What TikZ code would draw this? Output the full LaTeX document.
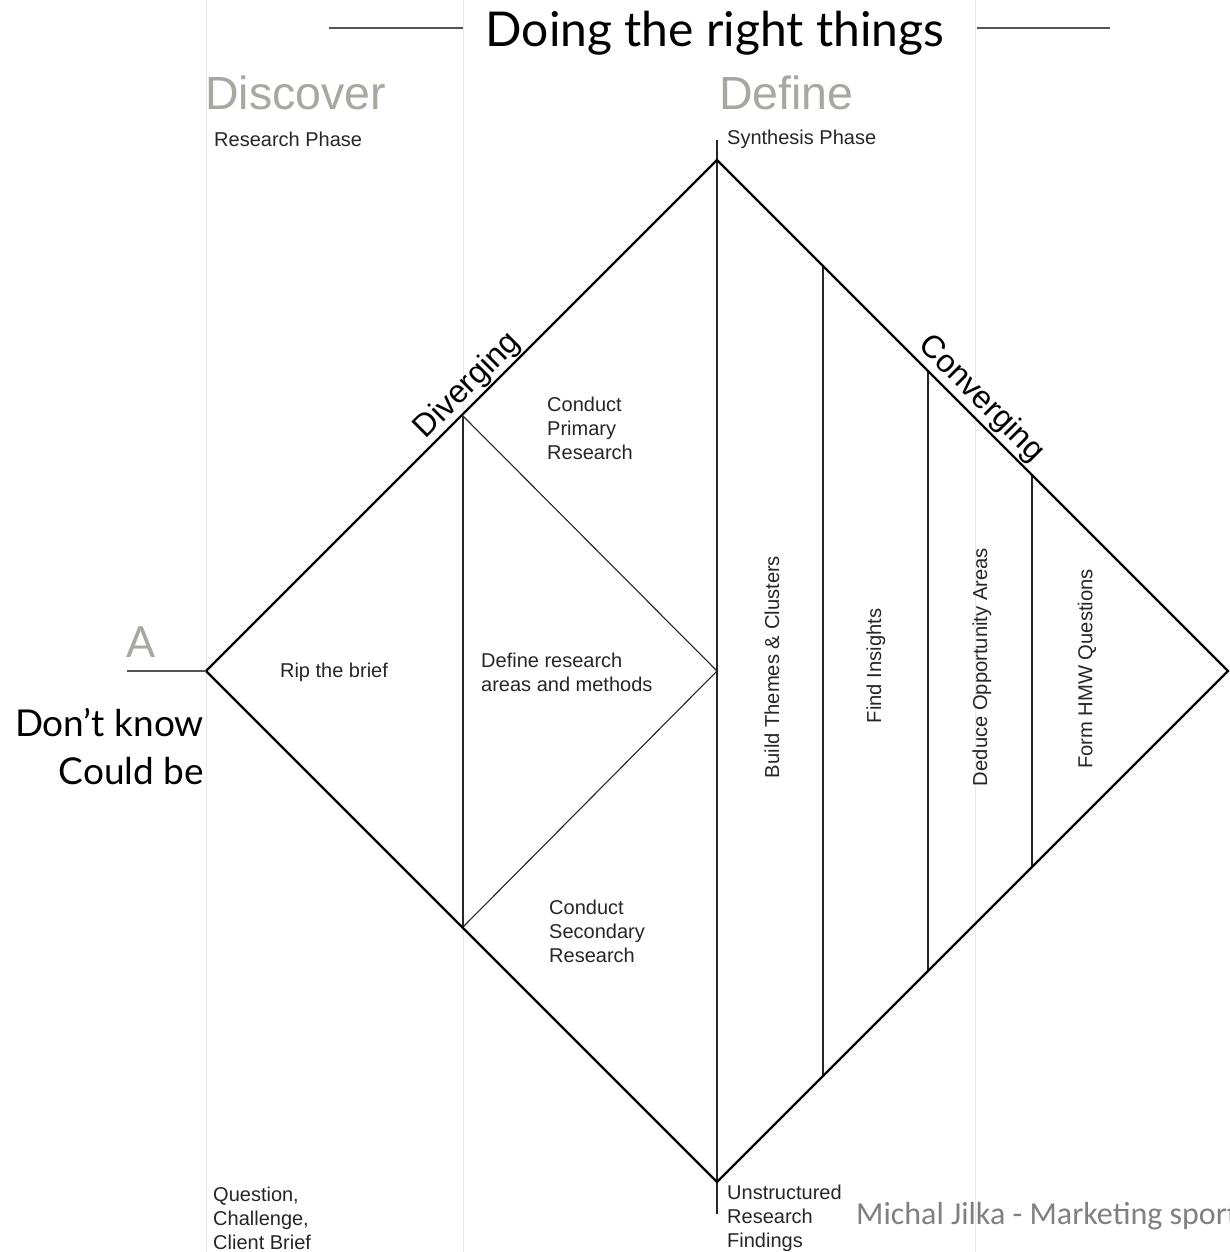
\documentclass[tikz,border=0pt]{standalone}
\usepackage{fontspec}
\setmainfont{Liberation Sans}
\newfontfamily\avfont{Lato}
\newfontfamily\calfont{Carlito}
\usetikzlibrary{calc}
\definecolor{phasegray}{RGB}{168,168,162}
\definecolor{guide}{RGB}{232,232,232}
\definecolor{footgray}{RGB}{128,128,128}
\definecolor{rulegray}{RGB}{85,85,85}
\begin{document}
\begin{tikzpicture}[x=1pt,y=-1pt,
  edge/.style={line width=2.2pt, black},
  innerline/.style={line width=1.4pt, black!85},
  guideline/.style={line width=1pt, guide},
  rule/.style={line width=1.4pt, rulegray},
  small/.style={font=\fontsize{20}{24}\selectfont, inner sep=0pt, align=left, text=black!85},
  phase/.style={font=\fontsize{46.5}{46.5}\selectfont, text=phasegray, inner sep=0pt, anchor=base west},
  vlabel/.style={font=\fontsize{20.2}{24}\selectfont, inner sep=0pt, rotate=90, text=black!85},
  dlabel/.style={font=\fontsize{32}{32}\selectfont, inner sep=1.5pt, anchor=south},
  bigav/.style={font=\avfont\fontsize{37}{48}\selectfont, inner sep=0pt}]
\useasboundingbox (0,0) rectangle (1230,1252);
\fill[white] (0,0) rectangle (1230,1252);

% guide lines
\coordinate (g1t) at (206,0); \coordinate (g1b) at (206,1252);
\coordinate (g2t) at (463,0); \coordinate (g2b) at (463,1252);
\coordinate (g3t) at (975,0); \coordinate (g3b) at (975,1252);
\draw[guideline] (g1t) -- (g1b);
\draw[guideline] (g2t) -- (g2b);
\draw[guideline] (g3t) -- (g3b);

% title
\node[font=\avfont\fontsize{48}{48}\selectfont, inner sep=0pt, anchor=base] (title) at (715,47) {Doing the right things};
\coordinate (tl1) at (329,28); \coordinate (tl2) at (463,28);
\coordinate (tr1) at (977,28); \coordinate (tr2) at (1110,28);
\draw[rule] (tl1) -- (tl2);
\draw[rule] (tr1) -- (tr2);

% phases
\node[phase] (discover) at (205,110) {Discover};
\node[phase] (define) at (719,110) {Define};
\node[small, anchor=west] (rphase) at (214,139) {Research Phase};
\node[small, anchor=west] (sphase) at (727,139) {Synthesis Phase};

% diamond vertices
\coordinate (L) at (206,671);
\coordinate (T) at (717,160);
\coordinate (B) at (717,1182);
\coordinate (R) at (1228,671);
\coordinate (C) at (717,671);
\coordinate (P1) at (463,416);
\coordinate (P2) at (463,927);
\coordinate (ctop) at (717,140);
\coordinate (cbot) at (717,1214);

\draw[innerline] (ctop) -- (cbot);
\draw[innerline] (P1) -- (P2);
\draw[innerline, line width=1.1pt] (P1) -- (C) -- (P2);
\coordinate (v1t) at (823,266); \coordinate (v1b) at (823,1076);
\coordinate (v2t) at (928,371); \coordinate (v2b) at (928,971);
\coordinate (v3t) at (1032,475); \coordinate (v3b) at (1032,867);
\draw[innerline] (v1t) -- (v1b);
\draw[innerline] (v2t) -- (v2b);
\draw[innerline] (v3t) -- (v3b);
\draw[edge, line join=miter] (L) -- (T) -- (R) -- (B) -- cycle;

% A
\coordinate (aline) at (127,671);
\draw[rule] (aline) -- (L);
\node[font=\avfont\fontsize{43}{43}\selectfont, text=phasegray, inner sep=0pt, anchor=base west] (A) at (126,657) {A};
\node[bigav, anchor=base east] (dk) at (204,736) {Don’t know};
\node[bigav, anchor=base east] (cb) at (204,784) {Could be};

% diagonal labels
\node[dlabel, rotate=45] (div) at ($(L)!0.535!(T)$) {Diverging};
\node[dlabel, rotate=-45, inner sep=2.5pt] (conv) at ($(T)!0.492!(R)$) {Converging};

% inner labels
\node[small, anchor=center] (rip) at (334,672) {Rip the brief};
\node[small, anchor=west] (defres) at (481,672) {Define research\\areas and methods};
\node[small, anchor=west] (cpr) at (547,428) {Conduct\\Primary\\Research};
\node[small, anchor=west] (csr) at (549,931) {Conduct\\Secondary\\Research};

\node[vlabel] (btc) at (772,667) {Build Themes \& Clusters};
\node[vlabel] (fi) at (876,666) {Find Insights};
\node[vlabel] (doa) at (982,667) {Deduce Opportunity Areas};
\node[vlabel] (hmw) at (1087,669) {Form HMW Questions};

% bottom labels
\node[small, anchor=west] (q) at (213,1218) {Question,\\Challenge,\\Client Brief};
\node[small, anchor=west] (u) at (727,1218) {Unstructured\\Research\\Findings};

% footer
\node[font=\calfont\fontsize{32}{32}\selectfont, text=footgray, inner sep=0pt, anchor=base west] (foot) at (856,1224) {Michal Jilka - Marketing sport};
\end{tikzpicture}
\end{document}
